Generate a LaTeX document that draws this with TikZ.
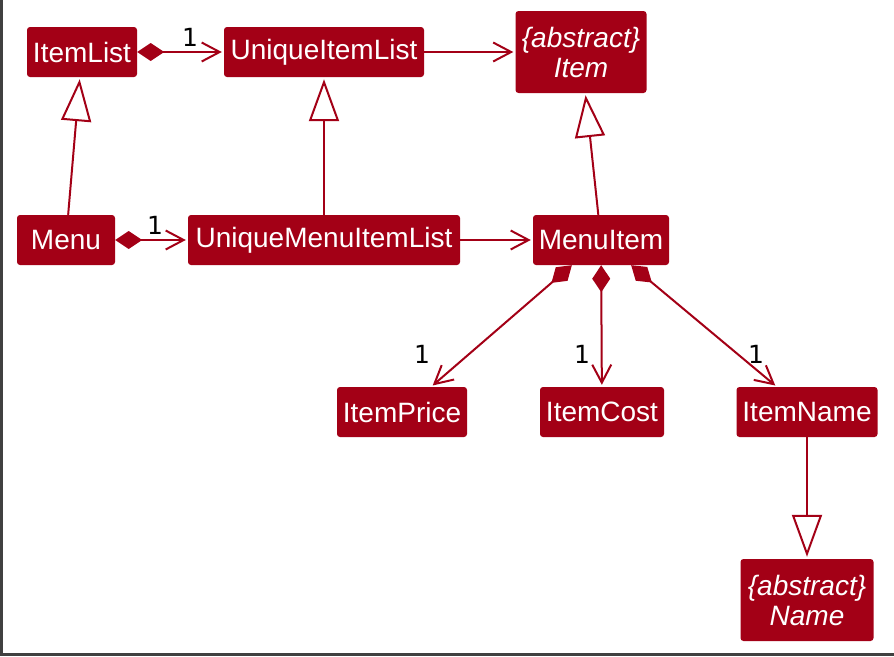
\documentclass[tikz,border=0pt]{standalone}
\usepackage{fontspec}
\setmainfont{Liberation Sans}
\newfontfamily\multfont{DejaVu Sans}
\usetikzlibrary{arrows.meta}
\definecolor{uml_red}{RGB}{163, 0, 22}
\definecolor{frame_gray}{RGB}{64, 64, 64}
\tikzstyle{cls}=[rectangle,rounded corners=3pt,fill=uml_red,text=white,
  inner sep=0pt,font=\fontsize{28}{30}\selectfont,minimum height=50pt]
\tikzstyle{abs}=[cls,font=\fontsize{28}{30}\selectfont\itshape,align=center,
  minimum height=82pt]
\tikzstyle{comp}=[draw=uml_red,line width=2pt,shorten >=2pt,
  {Diamond[length=27pt,width=18pt]}-{Straight Barb[length=18pt,width=19pt]}]
\tikzstyle{assoc}=[draw=uml_red,line width=2pt,shorten >=2pt,
  -{Straight Barb[length=18pt,width=19pt]}]
\tikzstyle{gen}=[draw=uml_red,line width=2pt,shorten >=2pt,
  -{Triangle[open,length=42pt,width=30pt,fill=white]}]
\tikzstyle{mult}=[font=\multfont\fontsize{25}{27}\selectfont,inner sep=0pt]

\begin{document}
\begin{tikzpicture}[x=1pt,y=-1pt]
        \useasboundingbox (0,0) rectangle (894,656);
        \fill[frame_gray] (0,0) rectangle (3,656);
        \fill[frame_gray] (0,653) rectangle (894,656);
        % classes
        \node [style=cls,minimum width=110pt] (il) at (82,52) {ItemList};
        \node [style=cls,minimum width=200pt] (uil) at (324,52) {UniqueItemList};
        \node [style=abs,minimum width=131pt] (item) at (581,52) {\{abstract\}\\Item};
        \node [style=cls,minimum width=98pt] (menu) at (66,240) {Menu};
        \node [style=cls,minimum width=272pt] (umil) at (324,240) {UniqueMenuItemList};
        \node [style=cls,minimum width=136pt] (mi) at (601,240) {MenuItem};
        \node [style=cls,minimum width=130pt] (price) at (402,412) {ItemPrice};
        \node [style=cls,minimum width=124pt] (cost) at (602,412) {ItemCost};
        \node [style=cls,minimum width=141pt] (iname) at (807,412) {ItemName};
        \node [style=abs,minimum width=133pt] (name) at (807,600) {\{abstract\}\\Name};
        % multiplicities
        \node [style=mult] (m1) at (190,37) {1};
        \node [style=mult] (m2) at (155,225) {1};
        \node [style=mult] (m3) at (422,354) {1};
        \node [style=mult] (m4) at (582,354) {1};
        \node [style=mult] (m5) at (756,354) {1};
        % links
        \draw [style=comp] (il) to (uil);
        \draw [style=assoc] (uil) to (item);
        \draw [style=gen] (menu) to (il);
        \draw [style=gen] (umil) to (uil);
        \draw [style=gen] (mi) to (item);
        \draw [style=comp] (menu) to (umil);
        \draw [style=assoc] (umil) to (mi);
        \draw [style=comp] (mi) to (price);
        \draw [style=comp] (mi) to (cost);
        \draw [style=comp] (mi) to (iname);
        \draw [style=gen] (iname) to (name);
    \end{tikzpicture}
\end{document}
